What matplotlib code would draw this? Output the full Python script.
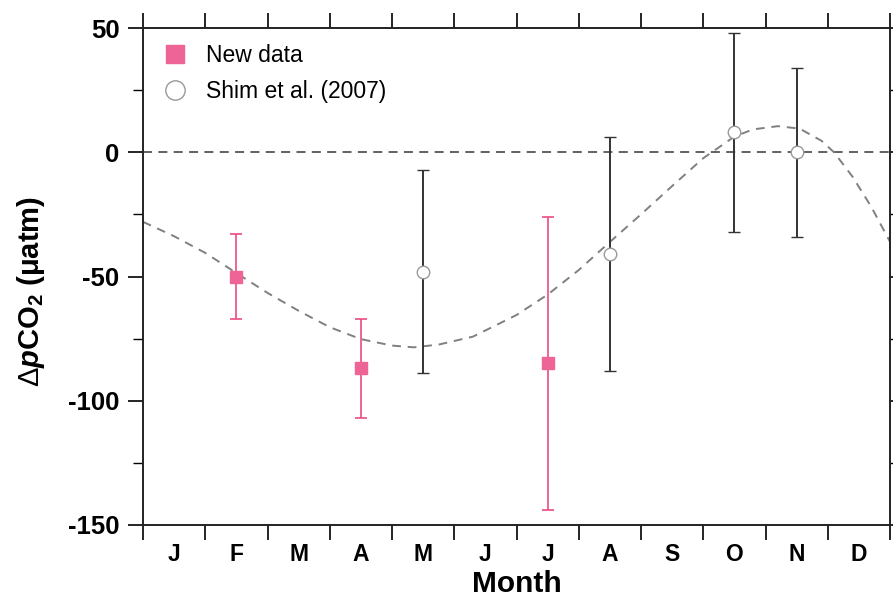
import matplotlib
matplotlib.use("Agg")
import matplotlib.pyplot as plt
from matplotlib.ticker import FixedLocator, MultipleLocator

plt.rcParams['font.family'] = ['Liberation Sans', 'DejaVu Sans']
plt.rcParams['mathtext.fontset'] = 'custom'
plt.rcParams['mathtext.rm'] = 'Liberation Sans'
plt.rcParams['mathtext.bf'] = 'Liberation Sans:bold'
plt.rcParams['mathtext.it'] = 'Liberation Sans:italic'
plt.rcParams['mathtext.bfit'] = 'Liberation Sans:bold:italic'
plt.rcParams['mathtext.sf'] = 'Liberation Sans'

# Month labels
months = ['J', 'F', 'M', 'A', 'M', 'J', 'J', 'A', 'S', 'O', 'N', 'D']

# New data (month centre index, value, upper bound, lower bound)
new_x = [1.5, 3.5, 6.5]
new_y = [-50, -87, -85]
new_hi = [-33, -67, -26]
new_lo = [-67, -107, -144]

# Shim et al. (2007)
shim_x = [4.5, 7.5, 9.5, 10.5]
shim_y = [-48, -41, 8, 0]
shim_hi = [-7, 6, 48, 34]
shim_lo = [-89, -88, -32, -34]

# Fitted seasonal curve
curve_m = [0.0, 0.5, 1.0, 1.5, 2.0, 2.5, 3.0, 3.5, 4.0, 4.35, 4.75, 5.3, 6.0,
           6.5, 7.0, 7.5, 8.0, 8.5, 9.0, 9.5, 9.8, 10.2, 10.55, 10.9, 11.1,
           11.4, 11.7, 12.0]
curve_v = [-28, -33.8, -40.5, -48.6, -56.6, -63.8, -70.4, -75.2, -77.8, -78.5,
           -77.4, -74.2, -65.5, -57.3, -47.4, -36.1, -25.0, -13.6, -2.4, 6.3,
           9.2, 10.5, 9.5, 4.6, 0.0, -9.9, -22.0, -36.0]

fig = plt.figure(figsize=(8.93, 6.04), dpi=100)
ax = fig.add_axes([143/893, 1-525/604, (890-143)/893, (525-28)/604])

ax.axhline(0, color='#555555', lw=1.3, ls=(0, (5, 3.5)), zorder=1)
ax.plot(curve_m, curve_v, color='#808080', lw=1.4, ls=(0, (4.5, 3.5)), zorder=2)

pink_face = '#EF6497'
pink_bar = '#EC4B82'
ax.errorbar(new_x, new_y,
            yerr=[[y - l for y, l in zip(new_y, new_lo)],
                  [h - y for y, h in zip(new_y, new_hi)]],
            fmt='s', ms=8.5, mfc=pink_face, mec=pink_face, ecolor=pink_bar,
            elinewidth=1.2, capsize=4.5, capthick=1.2, zorder=4, label='New data')
ax.errorbar(shim_x, shim_y,
            yerr=[[y - l for y, l in zip(shim_y, shim_lo)],
                  [h - y for y, h in zip(shim_y, shim_hi)]],
            fmt='o', ms=9, mfc='white', mec='#999999', mew=1.0, ecolor='#333333',
            elinewidth=1.4, capsize=4.5, capthick=1.4, zorder=4,
            label='Shim et al. (2007)')

ax.set_xlim(0, 12)
ax.set_ylim(-150, 50)

ax.xaxis.set_major_locator(FixedLocator(range(13)))
ax.xaxis.set_minor_locator(FixedLocator([i + 0.5 for i in range(12)]))
ax.set_xticklabels([], minor=False)
ax.set_xticklabels(months, minor=True, fontweight='bold', fontsize=16.5)
ax.tick_params(axis='x', which='major', direction='out', length=11, width=1.2,
               top=True, bottom=True)
ax.tick_params(axis='x', which='minor', length=0, pad=13)

ax.yaxis.set_minor_locator(MultipleLocator(25))
ax.set_yticks([-150, -100, -50, 0, 50])
ax.set_yticklabels(['-150', '-100', '-50', '0', '50'], fontweight='bold', fontsize=18.5)
ax.tick_params(axis='y', which='major', direction='out', length=11, width=1.2,
               left=True, right=True, pad=6)
ax.tick_params(axis='y', which='minor', direction='out', length=7, width=1.0,
               left=True, right=True)

for s in ax.spines.values():
    s.set_linewidth(1.4)
    s.set_color('#222222')

ax.set_xlabel('Month', fontsize=21.5, fontweight='bold', labelpad=3)
ax.set_ylabel(r'$\Delta\mathbfit{p}\mathbf{CO_2}$ $\mathbf{(\mu atm)}$',
              fontsize=21, fontweight='bold')
ax.yaxis.set_label_coords(-0.128, 0.47)

h, l = ax.get_legend_handles_labels()
h2 = [hh[0] for hh in h]
ax.legend(h2, l, loc='upper left', bbox_to_anchor=(0.0, 1.0), frameon=False,
          fontsize=16.5, handletextpad=0.72, labelspacing=0.55,
          borderaxespad=0.3, handlelength=1.35, markerscale=1.55)

fig.savefig('out.png', dpi=100)
